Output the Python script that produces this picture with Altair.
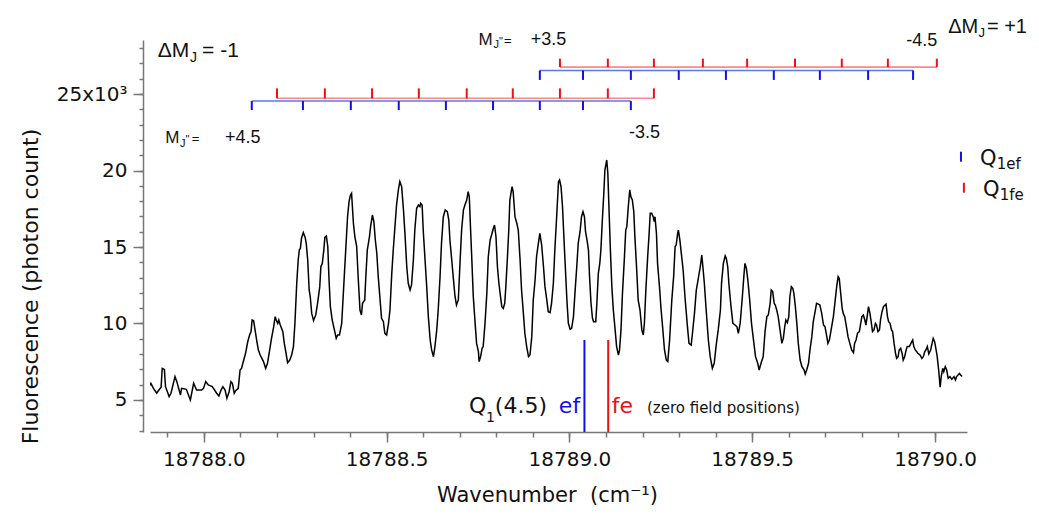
import altair as alt
import pandas as pd

# ---------------- spectrum (wavenumber cm^-1, fluorescence in 10^3 photon counts) -------------
seg_a = [(18787.850, 5.87), (18787.855, 6.09), (18787.862, 5.76), (18787.871, 5.44), (18787.877, 5.65),
         (18787.883, 5.83), (18787.886, 7.07), (18787.892, 7.00), (18787.895, 5.87), (18787.905, 5.22),
         (18787.910, 5.44), (18787.921, 6.53), (18787.926, 6.20), (18787.936, 5.33), (18787.939, 5.76),
         (18787.952, 5.70), (18787.963, 5.00), (18787.972, 6.09), (18787.980, 5.65), (18787.994, 5.65),
         (18787.999, 5.76), (18788.005, 6.20), (18788.012, 5.98), (18788.023, 5.87), (18788.035, 5.44),
         (18788.041, 5.26), (18788.047, 5.65), (18788.052, 5.87), (18788.058, 5.65), (18788.063, 5.11),
         (18788.069, 5.54), (18788.074, 6.20), (18788.078, 6.09), (18788.083, 5.44), (18788.087, 5.61),
         (18788.094, 5.76), (18788.099, 6.96), (18788.103, 7.07), (18788.109, 7.61), (18788.114, 8.05),
         (18788.120, 8.81), (18788.125, 9.25), (18788.129, 9.47), (18788.132, 10.23), (18788.136, 10.18),
         (18788.140, 9.58), (18788.145, 8.81), (18788.149, 8.27), (18788.154, 7.94), (18788.163, 7.51),
         (18788.169, 7.07), (18788.174, 7.40), (18788.180, 8.27), (18788.185, 9.03), (18788.191, 9.79),
         (18788.195, 10.45), (18788.198, 10.23), (18788.202, 10.01), (18788.205, 10.23), (18788.209, 9.90),
         (18788.216, 9.47), (18788.220, 8.70), (18788.224, 8.16), (18788.229, 7.44), (18788.235, 7.61),
         (18788.240, 7.94), (18788.245, 8.49), (18788.249, 10.01), (18788.254, 12.63), (18788.258, 14.15),
         (18788.261, 14.80), (18788.264, 14.91), (18788.267, 15.57), (18788.272, 15.94), (18788.277, 15.63),
         (18788.280, 15.24), (18788.284, 14.15), (18788.288, 12.19), (18788.291, 11.75), (18788.295, 10.66),
         (18788.300, 10.19), (18788.306, 10.56), (18788.311, 11.32), (18788.317, 12.41), (18788.320, 13.71),
         (18788.324, 13.93), (18788.328, 14.80), (18788.331, 15.63), (18788.335, 15.72), (18788.339, 15.02),
         (18788.342, 13.06), (18788.346, 11.10), (18788.351, 10.23), (18788.357, 9.58), (18788.362, 9.03),
         (18788.366, 9.25), (18788.371, 9.25), (18788.377, 10.01), (18788.382, 12.19), (18788.388, 14.80),
         (18788.393, 16.98), (18788.397, 17.96), (18788.401, 18.40), (18788.404, 18.51)]

seg_b = [(18788.409, 16.55), (18788.413, 15.68), (18788.418, 15.02), (18788.422, 13.06), (18788.427, 10.88),
         (18788.431, 10.56), (18788.434, 11.32), (18788.440, 11.54), (18788.443, 13.06), (18788.447, 14.80),
         (18788.453, 15.68), (18788.456, 16.33), (18788.461, 17.09), (18788.465, 16.66), (18788.469, 15.46),
         (18788.473, 14.59), (18788.477, 13.06), (18788.482, 11.54), (18788.486, 10.34), (18788.491, 10.12),
         (18788.495, 9.36), (18788.500, 9.25), (18788.505, 10.01), (18788.509, 10.88), (18788.514, 13.28),
         (18788.518, 14.80), (18788.523, 16.44), (18788.527, 17.74), (18788.532, 18.73), (18788.536, 19.27),
         (18788.541, 18.94), (18788.546, 17.42), (18788.550, 15.89), (18788.555, 13.71), (18788.559, 12.63),
         (18788.564, 12.19), (18788.568, 12.52), (18788.573, 14.15), (18788.577, 16.11), (18788.582, 17.53),
         (18788.587, 17.74), (18788.591, 17.64), (18788.593, 17.85), (18788.597, 17.74), (18788.600, 16.11),
         (18788.605, 14.15), (18788.609, 12.63), (18788.614, 10.45), (18788.619, 8.92), (18788.623, 8.27),
         (18788.628, 7.83), (18788.632, 8.49), (18788.637, 9.58), (18788.641, 10.88), (18788.646, 13.06),
         (18788.650, 15.24), (18788.655, 16.98), (18788.660, 17.42), (18788.666, 17.31), (18788.670, 16.76),
         (18788.673, 15.46), (18788.678, 14.15), (18788.682, 13.06), (18788.687, 11.75), (18788.691, 11.21),
         (18788.696, 11.54), (18788.701, 14.15), (18788.705, 16.11), (18788.710, 17.42), (18788.714, 17.74),
         (18788.719, 18.07), (18788.723, 18.62), (18788.726, 18.29), (18788.730, 15.89), (18788.733, 14.15),
         (18788.737, 11.75), (18788.742, 10.01), (18788.746, 8.70), (18788.751, 8.16), (18788.753, 7.51),
         (18788.757, 7.83), (18788.761, 8.38), (18788.764, 8.49), (18788.769, 10.01), (18788.774, 11.97),
         (18788.778, 14.37), (18788.783, 15.46), (18788.787, 15.78), (18788.792, 16.22), (18788.795, 16.44),
         (18788.799, 15.68), (18788.803, 13.71), (18788.807, 12.63), (18788.812, 11.64), (18788.815, 11.10),
         (18788.819, 10.99), (18788.823, 11.32), (18788.826, 12.41), (18788.830, 14.15), (18788.834, 16.11),
         (18788.837, 18.07), (18788.843, 18.94), (18788.846, 18.62), (18788.851, 16.98), (18788.856, 16.55),
         (18788.860, 16.11), (18788.865, 14.15), (18788.869, 12.19), (18788.874, 10.66), (18788.878, 9.36),
         (18788.883, 8.49), (18788.888, 7.83), (18788.892, 7.94), (18788.897, 9.14), (18788.901, 11.54),
         (18788.906, 12.84), (18788.910, 14.37), (18788.915, 15.24), (18788.919, 15.89), (18788.924, 15.13),
         (18788.929, 13.71), (18788.933, 12.41), (18788.938, 11.54), (18788.942, 10.77), (18788.947, 10.71),
         (18788.951, 11.32), (18788.956, 12.63), (18788.960, 14.80), (18788.965, 16.98)]

seg_c = [(18788.970, 19.27), (18788.973, 19.38), (18788.977, 18.94), (18788.981, 17.64), (18788.986, 15.02),
         (18788.990, 13.06), (18788.993, 11.54), (18788.997, 10.01), (18789.002, 9.62), (18789.006, 9.68),
         (18789.011, 10.45), (18789.015, 11.97), (18789.020, 13.71), (18789.024, 15.24), (18789.029, 16.00),
         (18789.033, 16.98), (18789.037, 17.31), (18789.041, 16.98), (18789.044, 16.00), (18789.048, 15.46),
         (18789.052, 14.80), (18789.055, 13.06), (18789.059, 11.32), (18789.063, 10.34), (18789.066, 10.12),
         (18789.072, 10.12), (18789.075, 11.32), (18789.079, 13.28), (18789.083, 13.93), (18789.086, 14.80),
         (18789.090, 16.76), (18789.094, 18.51), (18789.097, 20.03), (18789.102, 20.69), (18789.105, 19.81),
         (18789.108, 17.64), (18789.112, 14.80), (18789.116, 12.41), (18789.120, 10.88), (18789.125, 9.58),
         (18789.129, 8.49), (18789.134, 7.94), (18789.137, 8.27), (18789.141, 9.58), (18789.145, 11.97),
         (18789.150, 14.15), (18789.154, 16.11), (18789.157, 16.33), (18789.161, 17.64), (18789.165, 18.73),
         (18789.168, 18.29), (18789.172, 18.07), (18789.176, 17.31), (18789.179, 15.68), (18789.184, 13.50),
         (18789.188, 11.54), (18789.193, 10.88), (18789.198, 9.58), (18789.202, 9.25), (18789.205, 10.01),
         (18789.209, 12.19), (18789.214, 14.37), (18789.218, 15.89), (18789.221, 17.20), (18789.225, 17.20),
         (18789.229, 16.98), (18789.232, 16.66), (18789.234, 16.98), (18789.238, 15.89), (18789.241, 13.93),
         (18789.247, 12.19), (18789.250, 11.10), (18789.254, 10.01), (18789.260, 8.27), (18789.265, 7.61),
         (18789.269, 7.51), (18789.274, 8.92), (18789.280, 11.54), (18789.285, 13.06), (18789.289, 15.02),
         (18789.292, 15.13), (18789.296, 15.89), (18789.298, 16.11), (18789.302, 15.46), (18789.305, 14.80),
         (18789.311, 13.50), (18789.316, 11.75), (18789.322, 10.01), (18789.327, 8.70), (18789.333, 8.59),
         (18789.336, 9.25), (18789.342, 10.66), (18789.347, 12.19), (18789.351, 12.73), (18789.354, 13.17),
         (18789.358, 13.71), (18789.362, 14.48), (18789.365, 13.71), (18789.369, 12.63), (18789.374, 10.88),
         (18789.380, 8.92), (18789.385, 7.83), (18789.391, 7.07), (18789.396, 7.40), (18789.402, 8.70),
         (18789.407, 9.58), (18789.413, 10.88), (18789.416, 12.63), (18789.421, 13.93), (18789.426, 14.42),
         (18789.429, 14.26), (18789.433, 13.71), (18789.436, 12.63), (18789.442, 11.10), (18789.447, 10.01),
         (18789.453, 9.90), (18789.458, 9.79), (18789.462, 9.36), (18789.467, 10.01), (18789.473, 11.75),
         (18789.477, 13.06), (18789.480, 13.93), (18789.484, 13.61), (18789.488, 12.84), (18789.493, 11.54),
         (18789.498, 10.01), (18789.504, 8.81), (18789.509, 7.83), (18789.515, 7.40), (18789.519, 6.96),
         (18789.524, 7.40), (18789.530, 7.83)]

seg_d = [(18789.535, 9.47), (18789.540, 10.45), (18789.544, 10.56), (18789.549, 11.32), (18789.552, 12.19),
         (18789.556, 12.08), (18789.560, 11.32), (18789.563, 11.21), (18789.567, 10.88), (18789.571, 10.45),
         (18789.576, 9.58), (18789.581, 8.70), (18789.585, 9.03), (18789.589, 9.79), (18789.592, 10.23),
         (18789.596, 10.05), (18789.600, 10.45), (18789.603, 11.75), (18789.607, 12.41), (18789.611, 12.30),
         (18789.614, 11.97), (18789.618, 11.10), (18789.622, 10.01), (18789.626, 8.70), (18789.631, 7.61),
         (18789.636, 7.18), (18789.642, 6.96), (18789.645, 6.70), (18789.649, 6.96), (18789.654, 7.40),
         (18789.658, 8.27), (18789.663, 9.14), (18789.667, 10.12), (18789.672, 10.77), (18789.676, 11.32),
         (18789.681, 11.27), (18789.685, 11.21), (18789.690, 10.66), (18789.695, 9.90), (18789.699, 9.79),
         (18789.704, 9.14), (18789.707, 8.70), (18789.711, 8.92), (18789.715, 9.47), (18789.718, 9.90),
         (18789.722, 10.45), (18789.726, 11.32), (18789.731, 12.41), (18789.735, 13.06), (18789.738, 12.95),
         (18789.742, 11.97), (18789.746, 10.99), (18789.749, 10.66), (18789.753, 10.45), (18789.757, 9.90),
         (18789.762, 9.14), (18789.767, 8.70), (18789.772, 8.27), (18789.777, 8.09), (18789.780, 8.70),
         (18789.784, 8.92), (18789.788, 9.36), (18789.793, 9.47), (18789.796, 9.90), (18789.800, 10.45),
         (18789.804, 10.56), (18789.808, 10.23), (18789.811, 9.90), (18789.815, 10.56), (18789.818, 11.10),
         (18789.822, 10.66), (18789.826, 10.01), (18789.829, 9.47), (18789.833, 9.58), (18789.837, 10.01),
         (18789.840, 9.90), (18789.844, 9.47), (18789.848, 9.58), (18789.851, 10.23), (18789.855, 10.77),
         (18789.859, 11.10), (18789.866, 11.27), (18789.870, 10.45), (18789.873, 10.12), (18789.877, 10.01),
         (18789.881, 9.58), (18789.884, 9.47), (18789.888, 8.70), (18789.892, 8.05), (18789.895, 7.72),
         (18789.899, 7.83), (18789.902, 8.27), (18789.906, 8.38), (18789.910, 8.05), (18789.913, 7.61),
         (18789.917, 7.83), (18789.921, 8.27), (18789.924, 8.49), (18789.930, 8.49), (18789.935, 8.75),
         (18789.939, 8.92), (18789.942, 8.49), (18789.946, 8.27), (18789.950, 8.16), (18789.953, 8.05),
         (18789.959, 7.94), (18789.964, 7.72), (18789.968, 7.83), (18789.972, 8.16), (18789.975, 8.27),
         (18789.979, 8.49), (18789.983, 8.01), (18789.988, 8.27), (18789.992, 8.70), (18789.995, 9.03),
         (18789.999, 8.81), (18790.003, 8.27), (18790.006, 7.83), (18790.010, 6.96), (18790.014, 5.83),
         (18790.017, 6.53), (18790.021, 7.07), (18790.024, 6.85), (18790.028, 7.18), (18790.032, 6.96),
         (18790.036, 6.42), (18790.041, 6.53), (18790.046, 6.35), (18790.052, 6.53), (18790.056, 6.31),
         (18790.059, 6.53), (18790.063, 6.63), (18790.067, 6.74), (18790.070, 6.63), (18790.074, 6.53)]

# ---------------- Stark ladders (line positions, cm^-1) ----------------
lower_ef = [18788.131, 18788.271, 18788.402, 18788.533, 18788.662, 18788.791, 18788.919, 18789.037, 18789.168]
lower_fe = [18788.200, 18788.331, 18788.460, 18788.588, 18788.719, 18788.845, 18788.974, 18789.105, 18789.231]
upper_ef = [18788.919, 18789.037, 18789.168, 18789.299, 18789.428, 18789.559, 18789.685, 18789.817, 18789.940]
upper_fe = [18788.974, 18789.105, 18789.231, 18789.365, 18789.486, 18789.617, 18789.745, 18789.871, 18790.005]

zero_field = [("ef", 18789.041), ("fe", 18789.106)]

x_major_ticks = [18788.0, 18788.5, 18789.0, 18789.5, 18790.0]
x_minor_ticks = [18787.9, 18788.0, 18788.1, 18788.2, 18788.3, 18788.4, 18788.5, 18788.6, 18788.7,
                 18788.8, 18788.9, 18789.0, 18789.1, 18789.2, 18789.3, 18789.4, 18789.5, 18789.6,
                 18789.7, 18789.8, 18789.9, 18790.0]
y_major_ticks = [5, 10, 15, 20, 25]
y_minor_ticks = [3, 4, 5, 6, 7, 8, 9, 10, 11, 12, 13, 14, 15, 16, 17, 18, 19, 20, 21, 22, 23, 24, 25, 26, 27, 28]

X_DOMAIN = [18787.8526, 18790.0875]
Y_DOMAIN = [2.908, 28.53]

BLUE = "#1010e8"
RED = "#ee1111"
AX = "#777777"
K = "#111111"

xs = alt.Scale(domain=X_DOMAIN, nice=False, zero=False)
ys = alt.Scale(domain=Y_DOMAIN, nice=False, zero=False)


def X(f):
    return alt.X(f, type="quantitative", scale=xs, axis=None)


def Y(f):
    return alt.Y(f, type="quantitative", scale=ys, axis=None)


spec = pd.DataFrame(seg_a + seg_b + seg_c + seg_d, columns=["w", "f"])

x_axis = alt.Axis(
    orient="bottom", values=x_major_ticks, format=".1f", tickSize=10,
    labelFont="DejaVu Sans", labelFontSize=20, labelColor=K, labelPadding=7,
    domainColor=AX, domainWidth=1.5, tickColor=AX, tickWidth=1.5, grid=False,
    titleFont="DejaVu Sans", titleFontSize=21, titleFontWeight="normal", titleColor=K,
    titlePadding=15, titleX=397, labelFlush=False, labelOverlap=False,
)
y_axis = alt.Axis(
    orient="left", values=y_major_ticks, offset=7, tickSize=10,
    labelExpr="datum.value == 25 ? '25x10³' : datum.label",
    labelFont="DejaVu Sans", labelFontSize=20, labelColor=K, labelPadding=6,
    domainColor=AX, domainWidth=1.5, tickColor=AX, tickWidth=1.5, grid=False,
    titleFont="DejaVu Sans", titleFontSize=22, titleFontWeight="normal", titleColor=K,
    titleX=-113, titleY=246, titleBaseline="middle", labelFlush=False, labelOverlap=False,
)
x_minor_axis = alt.Axis(orient="bottom", values=x_minor_ticks, tickSize=5, labels=False, domain=False,
                        tickColor=AX, tickWidth=1.5, grid=False, title=None)
y_minor_axis = alt.Axis(orient="left", values=y_minor_ticks, tickSize=4, labels=False, domain=False,
                        offset=7, tickColor=AX, tickWidth=1.5, grid=False, title=None)

line = alt.Chart(spec).mark_line(color="black", strokeWidth=1.5, clip=True).encode(
    x=alt.X("w:Q", scale=xs, axis=x_axis, title="Wavenumber\u00a0\u00a0(cm⁻¹)"),
    y=alt.Y("f:Q", scale=ys, axis=y_axis, title="Fluorescence (photon count)"),
)

# zero field positions (this layer also carries the minor tick axes)
zf = pd.DataFrame([{"w": w, "f": 8.92, "f2": Y_DOMAIN[0], "c": BLUE if k == "ef" else RED} for k, w in zero_field])
zero_rules = alt.Chart(zf).mark_rule(strokeWidth=2).encode(
    x=alt.X("w:Q", scale=xs, axis=x_minor_axis),
    y=alt.Y("f:Q", scale=ys, axis=y_minor_axis), y2="f2",
    color=alt.Color("c:N", scale=None))

# ladders
ladders = [
    (lower_ef, 24.54, 23.95, BLUE, "#5a78f0"),
    (lower_fe, 24.72, 25.37, RED, "#f58a8a"),
    (upper_fe, 26.76, 27.31, RED, "#f58a8a"),
    (upper_ef, 26.54, 25.92, BLUE, "#5a78f0"),
]
tick_rows, bar_rows = [], []
for pos, yl, yt, ct, cl in ladders:
    for p in pos:
        tick_rows.append({"w": p, "f": yl, "f2": yt, "c": ct})
    bar_rows.append({"w": min(pos), "w2": max(pos), "f": yl, "c": cl})
# legend marks
tick_rows.append({"w": 18790.071, "f": 21.23, "f2": 20.58, "c": BLUE})
tick_rows.append({"w": 18790.079, "f": 19.20, "f2": 18.55, "c": RED})

ladder_bars = alt.Chart(pd.DataFrame(bar_rows)).mark_rule(strokeWidth=1.6).encode(
    x=X("w"), x2="w2", y=Y("f"), color=alt.Color("c:N", scale=None))
ladder_ticks = alt.Chart(pd.DataFrame(tick_rows)).mark_rule(strokeWidth=2).encode(
    x=X("w"), y=Y("f"), y2="f2", color=alt.Color("c:N", scale=None))

helv_texts = [
    ("ΔM", 18787.874, 27.43, 21, K), ("J", 18787.962, 27.11, 14, K), ("= -1", 18787.995, 27.43, 21, K),
    ("M", 18787.894, 21.78, 17, K), ("J", 18787.935, 21.56, 11, K), ('"', 18787.950, 21.78, 11, K),
    ("=", 18787.967, 21.78, 13, K), ("+4.5", 18788.058, 21.78, 18, K),
    ("M", 18788.751, 28.20, 17, K), ("J", 18788.792, 27.98, 11, K), ('"', 18788.807, 28.20, 11, K),
    ("=", 18788.821, 28.20, 13, K), ("+3.5", 18788.894, 28.20, 18, K),
    ("-3.5", 18789.163, 22.15, 18, K), ("-4.5", 18789.921, 28.14, 18, K),
    ("ΔM", 18790.036, 28.99, 20, K), ("J", 18790.119, 28.73, 13, K), ("= +1", 18790.142, 28.99, 20, K),
]
dejavu_texts = [
    ("Q", 18790.123, 20.36, 21, K), ("1ef", 18790.169, 20.10, 15, K),
    ("Q", 18790.131, 18.33, 21, K), ("1fe", 18790.177, 18.07, 15, K),
    ("Q", 18788.725, 4.15, 22, K), ("1", 18788.772, 3.56, 14, K), ("(4.5)", 18788.796, 4.15, 22, K),
    ("ef", 18788.971, 4.15, 22, BLUE), ("fe", 18789.116, 4.15, 22, RED),
    ("(zero field positions)", 18789.212, 4.15, 15, K),
]


def text_layer(rows, font):
    df = pd.DataFrame(rows, columns=["t", "w", "f", "s", "c"])
    return alt.Chart(df).mark_text(align="left", baseline="alphabetic", font=font).encode(
        x=X("w"), y=Y("f"), text="t:N",
        size=alt.Size("s:Q", scale=None), color=alt.Color("c:N", scale=None))


chart = alt.layer(
    line, zero_rules, ladder_bars, ladder_ticks,
    text_layer(helv_texts, "Liberation Sans"), text_layer(dejavu_texts, "DejaVu Sans"),
).resolve_axis(
    x="independent", y="independent"
).properties(
    width=817, height=392,
    padding={"left": 142, "top": 32, "right": 64, "bottom": 74},
    autosize=alt.AutoSizeParams(type="none"),
    background="white",
).configure_view(stroke=None)

chart.save("out.html", embed_options={"renderer": "svg", "actions": False})
